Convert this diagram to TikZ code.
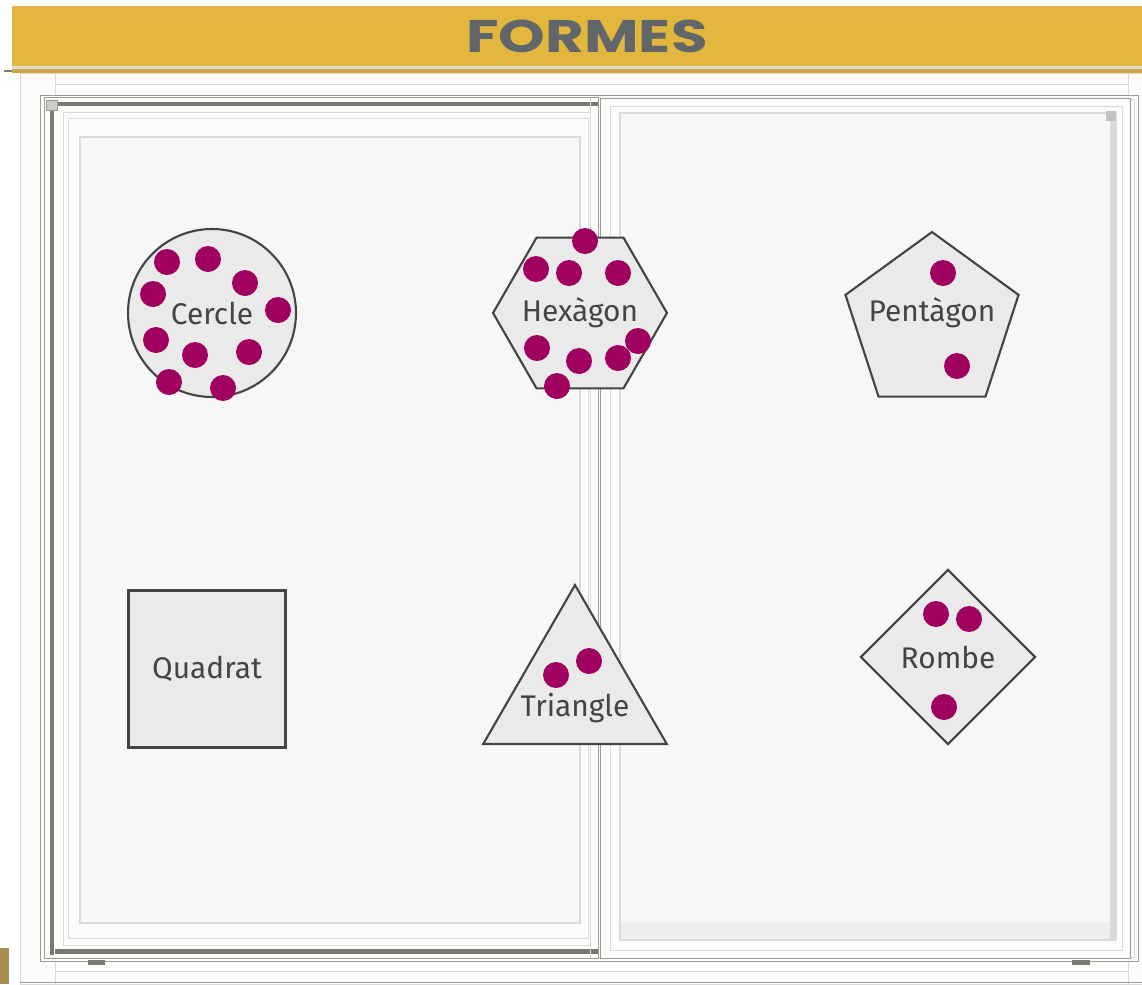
\documentclass[tikz,border=0pt]{standalone}
\usepackage{fontspec}
\setmainfont{Fira Sans}
\newfontfamily\titlefont{Poppins}
\usetikzlibrary{positioning,shapes.geometric}
\tikzset{
  forma/.style={draw=ink, fill=shapefill, line width=1.2pt, inner sep=0pt},
  lbl/.style={font=\fontsize{17}{20}\selectfont, text=ink, inner sep=0pt},
  dot/.style={fill=plum},
  sash/.style={fill=framewhite, draw=midline, line width=0.5pt},
  glass/.style={fill=glassgray, draw=lightline, line width=0.6pt},
  darkband/.style={fill=darkframe},
}
\definecolor{ink}{HTML}{444444}
\definecolor{shapefill}{HTML}{EAEAEA}
\definecolor{plum}{HTML}{A0005F}
\definecolor{gold}{HTML}{E3B73D}
\definecolor{golddark}{HTML}{D2A53A}
\definecolor{goldbrown}{HTML}{A98F4E}
\definecolor{titlegray}{HTML}{61666B}
\definecolor{framewhite}{HTML}{FCFCFA}
\definecolor{glassgray}{HTML}{F7F7F7}
\definecolor{lightline}{HTML}{DADAD8}
\definecolor{midline}{HTML}{9A9A96}
\definecolor{darkframe}{HTML}{7A7A74}

\begin{document}
\begin{tikzpicture}[x=0.02cm, y=-0.02cm]
  \useasboundingbox (0,0) rectangle (1142,984);
  \fill[white] (0,0) rectangle (1142,984);

  % wall casing round the window
  \filldraw[fill=framewhite, draw=lightline] (20,73) rectangle (1142,984);
  \draw[lightline] (55,73) -- (55,95) (1128,73) -- (1128,95);
  \draw[lightline] (55,84) -- (1128,84);
  \draw[lightline] (55,960) -- (55,984) (1128,960) -- (1128,984);
  \draw[lightline] (55,971) -- (1128,971);
  \draw[midline] (20,982) -- (1142,982);
  \fill[goldbrown] (0,948) rectangle (9,984);

  % outer frame
  \filldraw[sash] (40,95) rectangle (1138,961);
  \draw[lightline] (44,99) rectangle (1134,957);

  % right sash (behind)
  \filldraw[sash] (600,98) rectangle (1130,958);
  \draw[lightline] (610,106) rectangle (1122,950);
  \filldraw[glass] (620,113) rectangle (1115,940);
  \fill[shapefill!70!glassgray] (621,922) rectangle (1114,939);
  \fill[lightline] (1110,113) rectangle (1117,940);
  \fill[midline!60] (1106,111) rectangle (1116,121);

  % left sash (front)
  \filldraw[sash] (44,97) rectangle (598,958);
  \fill[darkband] (57,102) rectangle (598,106);
  \fill[darkband] (50,107) rectangle (54,955);
  \fill[darkband] (55,949) rectangle (598,954);
  \filldraw[fill=midline!50, draw=midline] (46,100) rectangle (57,110);
  \draw[lightline] (63,112) rectangle (590,945);
  \draw[lightline] (68,118) rectangle (588,938);
  \filldraw[glass] (80,137) rectangle (580,923);
  \draw[lightline] (590,98) -- (590,958);

  % feet of the sill
  \fill[darkframe] (88,960) rectangle (105,965);
  \fill[darkframe] (1072,960) rectangle (1090,965);

  % title banner
  \fill[lightline] (12,66) rectangle (1142,69);
  \fill[golddark] (12,69) rectangle (1142,73);
  \fill[gold] (12,6) rectangle (1142,66);
  \fill[darkframe] (4,70) rectangle (12,72);
  \node[font=\titlefont\bfseries\fontsize{26}{28}\selectfont, text=titlegray] (title) at (587,36) {\scalebox{1.3}[1]{FORMES}};

  % shapes
  \node[forma, circle, minimum size=3.36cm] (cercle) at (212,313) {};
  \node[lbl] (cerclelbl) at (cercle.center) {Cercle};

  \node[forma, regular polygon, regular polygon sides=6, minimum size=3.48cm] (hexagon) at (580,313) {};
  \node[lbl] (hexagonlbl) at (hexagon.center) {Hexàgon};

  \node[forma, regular polygon, regular polygon sides=5, minimum size=3.64cm] (pentagon) at (932,323) {};
  \node[lbl] (pentagonlbl) at (932,313) {Pentàgon};

  \node[forma, rectangle, minimum size=3.14cm] (quadrat) at (207,669) {};
  \node[lbl] (quadratlbl) at (quadrat.center) {Quadrat};

  \node[forma, regular polygon, regular polygon sides=3, minimum size=4.24cm] (triangle) at (575,691) {};
  \node[lbl] (trianglelbl) at (575,708) {Triangle};

  \node[forma, diamond, aspect=1, minimum size=3.5cm] (rombe) at (948,657) {};
  \node[lbl] (rombelbl) at (rombe.center) {Rombe};

  % dots
  \foreach \x/\y in {167/262, 208/259, 245/283, 153/294, 278/310, 156/340, 195/355,
                     249/352, 169/382, 223/388,
                     585/241, 536/269, 569/273, 618/273, 537/348, 579/361, 618/358,
                     638/341, 557/386,
                     943/273, 957/366,
                     556/675, 589/661,
                     936/614, 969/619, 944/707}
    \fill[dot] (\x,\y) circle[radius=13];
\end{tikzpicture}
\end{document}
